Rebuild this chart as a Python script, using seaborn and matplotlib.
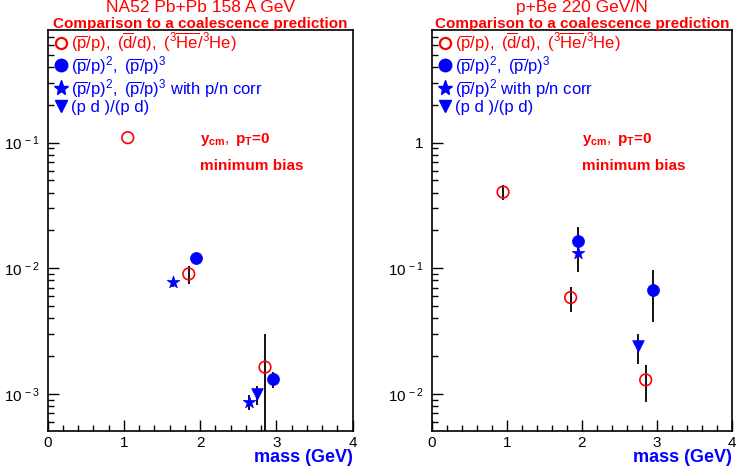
import numpy as np
import pandas as pd
import seaborn as sns
import matplotlib
matplotlib.use("Agg")
import matplotlib.pyplot as plt
from matplotlib.lines import Line2D
from matplotlib.ticker import FixedLocator, LogLocator, MultipleLocator, NullFormatter

# ---- data ----
# NA52 Pb+Pb 158 A GeV
pb_ratio_mass = [1.05, 1.85, 2.85]
pb_ratio = [0.1096, 0.0090, 0.00163]
pb_ratio_lo = [0.1096, 0.0075, 0.0001]
pb_ratio_hi = [0.1096, 0.0105, 0.0030]

pb_coal_mass = [1.95, 2.95]
pb_coal = [0.0121, 0.00132]
pb_coal_lo = [0.0108, 0.00112]
pb_coal_hi = [0.0130, 0.00150]

pb_corr_mass = [1.65, 2.64]
pb_corr = [0.0078, 0.00086]
pb_corr_lo = [0.0071, 0.00074]
pb_corr_hi = [0.0080, 0.00098]

pb_pd_mass = [2.75]
pb_pd = [0.00100]
pb_pd_lo = [0.00081]
pb_pd_hi = [0.00115]

# p+Be 220 GeV/N
pbe_ratio_mass = [0.95, 1.85, 2.85]
pbe_ratio = [0.404, 0.0584, 0.0129]
pbe_ratio_lo = [0.350, 0.0450, 0.0086]
pbe_ratio_hi = [0.460, 0.0710, 0.0171]

pbe_coal_mass = [1.95, 2.95]
pbe_coal = [0.165, 0.067]
pbe_coal_lo = [0.094, 0.0376]
pbe_coal_hi = [0.212, 0.097]

pbe_corr_mass = [1.95]
pbe_corr = [0.132]
pbe_corr_lo = [0.132]
pbe_corr_hi = [0.132]

pbe_pd_mass = [2.75]
pbe_pd = [0.024]
pbe_pd_lo = [0.0173]
pbe_pd_hi = [0.0299]

titles = ["NA52 Pb+Pb 158 A GeV", "p+Be 220 GeV/N"]
subtitle = "Comparison to a coalescence prediction"

pb_labels = [r"$\mathrm{(\overline{p}/p),\ (\overline{d}/d),\ (^{3}\overline{He}/^{3}He)}$",
             r"$\mathrm{(\overline{p}/p)^{2},\ (\overline{p}/p)^{3}}$",
             r"$\mathrm{(\overline{p}/p)^{2},\ (\overline{p}/p)^{3}}$ with p/n corr",
             "(p d )/(p d)"]
pbe_labels = [r"$\mathrm{(\overline{p}/p),\ (\overline{d}/d),\ (^{3}\overline{He}/^{3}He)}$",
              r"$\mathrm{(\overline{p}/p)^{2},\ (\overline{p}/p)^{3}}$",
              r"$\mathrm{(\overline{p}/p)^{2}}$ with p/n corr",
              "(p d )/(p d)"]

pb_yticks = [1e-3, 1e-2, 1e-1]
pb_yticklabels = [r"$10^{\,-3}$", r"$10^{\,-2}$", r"$10^{\,-1}$"]
pbe_yticks = [1e-2, 1e-1, 1]
pbe_yticklabels = [r"$10^{\,-2}$", r"$10^{\,-1}$", "1"]

sns.set_style("ticks")
plt.rcParams["font.family"] = ["Liberation Sans", "DejaVu Sans"]
plt.rcParams["mathtext.fontset"] = "custom"
plt.rcParams["mathtext.rm"] = "Liberation Sans"
plt.rcParams["mathtext.it"] = "Liberation Sans:italic"
plt.rcParams["mathtext.bf"] = "Liberation Sans:bold"

RED = "#ff0000"
BLUE = "#0000ff"

fig = plt.figure(figsize=(7.38, 4.74), dpi=100)
ax1 = fig.add_axes([0.0646, 0.0907, 0.4133, 0.846])
ax2 = fig.add_axes([0.585, 0.0907, 0.4069, 0.846])


def make_df(m, v, lo, hi):
    return pd.DataFrame({"mass": m, "val": v, "lo": lo, "hi": hi})


def draw_panel(ax, sets, ylim, yticks, yticklabels, title, labels):
    styles = [
        dict(marker="o", s=70, facecolors="none", edgecolors=RED, linewidths=1.2),
        dict(marker="o", s=75, color=BLUE, edgecolor=BLUE, linewidth=0.5),
        dict(marker="*", s=90, color=BLUE, edgecolor=BLUE, linewidth=0.5),
        dict(marker="v", s=70, color=BLUE, edgecolor=BLUE, linewidth=0.5),
    ]
    for df, st in zip(sets, styles):
        ax.errorbar(df["mass"], df["val"],
                    yerr=[df["val"] - df["lo"], df["hi"] - df["val"]],
                    fmt="none", ecolor="black", elinewidth=1.3, capsize=0, zorder=2)
        sns.scatterplot(data=df, x="mass", y="val", ax=ax, zorder=3, legend=False, **st)

    ax.set_yscale("log")
    ax.set_xlim(0, 4)
    ax.set_ylim(*ylim)
    ax.yaxis.set_major_locator(FixedLocator(yticks))
    ax.set_yticklabels(yticklabels)
    ax.yaxis.set_minor_locator(LogLocator(base=10, subs=np.arange(2, 10)))
    ax.yaxis.set_minor_formatter(NullFormatter())
    ax.xaxis.set_major_locator(MultipleLocator(1))
    ax.xaxis.set_minor_locator(MultipleLocator(0.2))
    ax.tick_params(which="both", direction="in", top=False, right=False,
                   labelsize=11, colors="black")
    ax.tick_params(which="major", length=8, width=1)
    ax.tick_params(which="minor", length=4, width=1)
    ax.tick_params(axis="y", pad=6)
    for sp in ax.spines.values():
        sp.set_visible(True)
        sp.set_linewidth(1.2)
        sp.set_color("black")
    ax.set_xlabel("")
    ax.set_ylabel("")

    ax.text(0.5, 1.057, title, transform=ax.transAxes, ha="center", va="center",
            color=RED, fontsize=12.5)
    ax.text(0.5, 1.016, subtitle, transform=ax.transAxes, ha="center", va="center",
            color=RED, fontsize=11, fontweight="bold")

    ax.text(0.50, 0.726, r"$\mathbf{y_{cm}},\ \mathbf{p_{T}}$=0", transform=ax.transAxes,
            color=RED, fontsize=11, fontweight="bold", va="center")
    ax.text(0.50, 0.661, "minimum bias", transform=ax.transAxes,
            color=RED, fontsize=11, fontweight="bold", va="center")
    ax.text(1.0, -0.065, "mass (GeV)", transform=ax.transAxes, ha="right", va="center",
            color=BLUE, fontsize=13, fontweight="bold")

    handles = [
        Line2D([], [], marker="o", ls="none", mfc="none", mec=RED, mew=1.6, ms=8),
        Line2D([], [], marker="o", ls="none", mfc=BLUE, mec=BLUE, ms=9),
        Line2D([], [], marker="*", ls="none", mfc=BLUE, mec=BLUE, ms=11),
        Line2D([], [], marker="v", ls="none", mfc=BLUE, mec=BLUE, ms=9),
    ]
    leg = ax.legend(handles, labels, loc="upper left", frameon=False, fontsize=12,
                    handlelength=0.6, handletextpad=0.3, labelspacing=0.0,
                    borderaxespad=0.0, bbox_to_anchor=(0.005, 1.015))
    for t, c in zip(leg.get_texts(), [RED, BLUE, BLUE, BLUE]):
        t.set_color(c)


draw_panel(ax1,
           [make_df(pb_ratio_mass, pb_ratio, pb_ratio_lo, pb_ratio_hi),
            make_df(pb_coal_mass, pb_coal, pb_coal_lo, pb_coal_hi),
            make_df(pb_corr_mass, pb_corr, pb_corr_lo, pb_corr_hi),
            make_df(pb_pd_mass, pb_pd, pb_pd_lo, pb_pd_hi)],
           (5.05e-4, 0.79), pb_yticks, pb_yticklabels, titles[0], pb_labels)

draw_panel(ax2,
           [make_df(pbe_ratio_mass, pbe_ratio, pbe_ratio_lo, pbe_ratio_hi),
            make_df(pbe_coal_mass, pbe_coal, pbe_coal_lo, pbe_coal_hi),
            make_df(pbe_corr_mass, pbe_corr, pbe_corr_lo, pbe_corr_hi),
            make_df(pbe_pd_mass, pbe_pd, pbe_pd_lo, pbe_pd_hi)],
           (5.05e-3, 7.9), pbe_yticks, pbe_yticklabels, titles[1], pbe_labels)

fig.savefig("out.png", dpi=100)
